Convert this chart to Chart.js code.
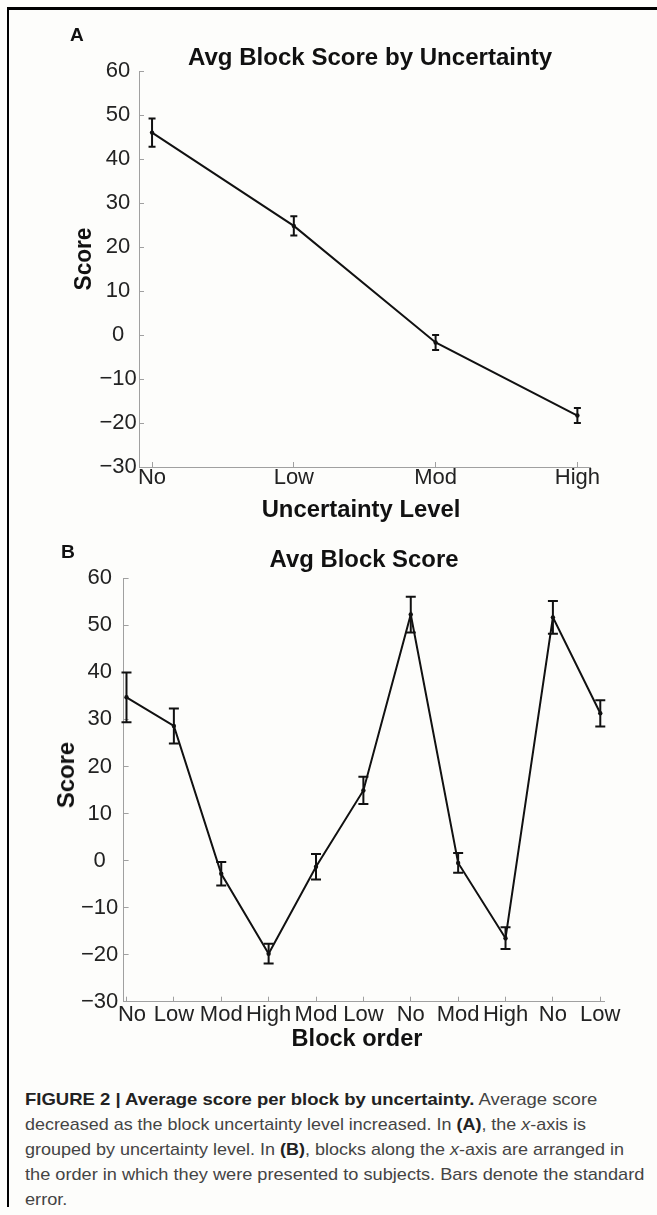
<!DOCTYPE html>
<html>
<head>
<meta charset="utf-8">
<script src="https://cdn.jsdelivr.net/npm/chart.js@4"></script>
<style>
  html, body { margin: 0; padding: 0; background: #fdfdfb; }
  body { width: 657px; height: 1215px; position: relative; overflow: hidden; font-family: "Liberation Sans", Arial, sans-serif; }
  .frame { position: absolute; left: 7px; top: 7px; width: 700px; height: 1197px; border-left: 2px solid #000; border-top: 3px solid #000; }
  canvas { position: absolute; left: 0; }
  .lbl { position: absolute; white-space: nowrap; line-height: 1; font-weight: bold; color: #111; }
  .cap { position: absolute; left: 25px; white-space: nowrap; line-height: 1; font-size: 17px; color: #444; transform-origin: left center; }
  .cap b { color: #222; }
</style>
</head>
<body>
<div class="frame"></div>
<canvas id="chartA" width="657" height="520" style="top:0"></canvas>
<canvas id="chartB" width="657" height="530" style="top:530px"></canvas>

<div class="lbl" data-w="13.4" data-anchor="left" style="left:70.4px; top:26px; font-size:18.5px">A</div>
<div class="lbl" data-w="364" style="left:370px; top:45.5px; font-size:23px">Avg Block Score by Uncertainty</div>
<div class="lbl" data-w="63" data-rot="1" style="left:83px; top:258.5px; font-size:23px">Score</div>
<div class="lbl" data-w="199" style="left:360.5px; top:498.2px; font-size:23px">Uncertainty Level</div>

<div class="lbl" data-w="13.9" data-anchor="left" style="left:60.7px; top:543px; font-size:18px">B</div>
<div class="lbl" data-w="189" style="left:364px; top:547.8px; font-size:23px">Avg Block Score</div>
<div class="lbl" data-w="66.7" data-rot="1" style="left:66.4px; top:775px; font-size:24px">Score</div>
<div class="lbl" data-w="131" style="left:356.7px; top:1026.5px; font-size:23px">Block order</div>

<div class="cap" data-w="572" style="top:1090.6px"><b>FIGURE 2 | Average score per block by uncertainty.</b> Average score</div>
<div class="cap" data-w="561" style="top:1115.6px">decreased as the block uncertainty level increased. In <b>(A)</b>, the <i>x</i>-axis is</div>
<div class="cap" data-w="599" style="top:1140.6px">grouped by uncertainty level. In <b>(B)</b>, blocks along the <i>x</i>-axis are arranged in</div>
<div class="cap" data-w="619" style="top:1165.6px">the order in which they were presented to subjects. Bars denote the standard</div>
<div class="cap" style="top:1190.6px">error.</div>

<script>
// panel A: grouped by uncertainty level
const levelsA = ['No', 'Low', 'Mod', 'High'];
const scoreA = [46, 24.8, -1.7, -18.3];
const errA = [3.2, 2.2, 1.7, 1.7];

// panel B: in presentation order
const blocksB = ['No', 'Low', 'Mod', 'High', 'Mod', 'Low', 'No', 'Mod', 'High', 'No', 'Low'];
const scoreB = [34.7, 28.6, -2.8, -19.8, -1.3, 14.9, 52.3, -0.5, -16.5, 51.7, 31.3];
const errB = [5.3, 3.7, 2.5, 2.1, 2.7, 2.9, 3.8, 2.1, 2.3, 3.5, 2.8];

const yTicks = [-30, -20, -10, 0, 10, 20, 30, 40, 50, 60];

const AXIS = '#a0a0a0';
const INK = '#111';

// draws the standard error bars using the chart's own scales
const errorBars = {
  id: 'errorBars',
  afterDatasetsDraw(chart, args, opts) {
    const { ctx, scales: { x, y } } = chart;
    const vals = chart.data.datasets[0].data;
    ctx.save();
    ctx.strokeStyle = INK;
    ctx.lineWidth = 2;
    vals.forEach((p, i) => {
      const px = x.getPixelForValue(p.x);
      const top = y.getPixelForValue(p.y + opts.se[i]);
      const bot = y.getPixelForValue(p.y - opts.se[i]);
      ctx.beginPath();
      ctx.moveTo(px, top); ctx.lineTo(px, bot);
      ctx.moveTo(px - opts.cap, top); ctx.lineTo(px + opts.cap, top);
      ctx.moveTo(px - opts.cap, bot); ctx.lineTo(px + opts.cap, bot);
      ctx.stroke();
    });
    ctx.restore();
  }
};

function makeChart(id, cats, scores, errs, cfg) {
  const ctx = document.getElementById(id).getContext('2d');
  return new Chart(ctx, {
    type: 'line',
    data: {
      datasets: [{
        data: scores.map((v, i) => ({ x: i + 1, y: v })),
        borderColor: INK,
        backgroundColor: INK,
        borderWidth: 2,
        pointRadius: 2.2,
        pointBorderWidth: 0,
        tension: 0
      }]
    },
    options: {
      responsive: false,
      animation: false,
      layout: { padding: cfg.padding },
      plugins: {
        legend: { display: false },
        tooltip: { enabled: false },
        errorBars: { se: errs, cap: cfg.cap }
      },
      scales: {
        x: {
          type: 'linear',
          min: cfg.xMin,
          max: cfg.xMax,
          afterBuildTicks: (s) => { s.ticks = cats.map((c, i) => ({ value: i + 1 })); },
          afterFit: (s) => { s.height = cfg.xHeight; },
          border: { display: true, color: AXIS, width: 1 },
          grid: { drawOnChartArea: false, drawTicks: true, tickLength: -5, color: AXIS },
          ticks: {
            autoSkip: false, maxRotation: 0, minRotation: 0,
            padding: cfg.xPad,
            color: '#222',
            font: { family: 'Liberation Sans, Arial, sans-serif', size: 22 },
            // first label sits a little right of its tick, clear of the -30
            callback: (v) => (v === 1 ? cfg.firstPad : '') + cats[v - 1]
          }
        },
        y: {
          min: -30,
          max: 60,
          afterBuildTicks: (s) => { s.ticks = yTicks.map((v) => ({ value: v })); },
          afterFit: (s) => { s.width = cfg.yWidth; },
          border: { display: true, color: AXIS, width: 1 },
          grid: { drawOnChartArea: false, drawTicks: true, tickLength: -5, color: AXIS },
          ticks: {
            crossAlign: 'center',
            padding: cfg.yPad,
            color: '#222',
            font: { family: 'Liberation Sans, Arial, sans-serif', size: 22 },
            callback: (v) => (v < 0 ? '\u2212' + Math.abs(v) : String(v))
          }
        }
      }
    },
    plugins: [errorBars]
  });
}

makeChart('chartA', levelsA, scoreA, errA, {
  padding: { top: 71, right: 67, bottom: 23, left: 0 },
  xMin: 0.908, xMax: 4.089, xHeight: 30, yWidth: 139,
  xPad: 2.3, yPad: 7.3, cap: 3.5, firstPad: ''
});

makeChart('chartB', blocksB, scoreB, errB, {
  padding: { top: 48.3, right: 52.5, bottom: 28.3, left: 0 },
  xMin: 0.939, xMax: 11.089, xHeight: 30, yWidth: 123.6,
  xPad: 5.3, yPad: 10.3, cap: 5, firstPad: '\u2002'
});

// squeeze html labels to the widths measured on the figure
document.querySelectorAll('[data-w]').forEach((el) => {
  const k = parseFloat(el.dataset.w) / el.offsetWidth;
  if (el.classList.contains('cap') || el.dataset.anchor === 'left') {
    el.style.transformOrigin = 'left center';
    el.style.transform = 'scaleX(' + k + ')';
  } else if (el.dataset.rot) {
    el.style.transform = 'translate(-50%, -50%) rotate(-90deg) scaleX(' + k + ')';
  } else {
    el.style.transform = 'translateX(-50%) scaleX(' + k + ')';
  }
});
// last caption line follows the scale of the line above it
const caps = document.querySelectorAll('.cap');
caps[4].style.transform = caps[3].style.transform;
</script>
</body>
</html>
